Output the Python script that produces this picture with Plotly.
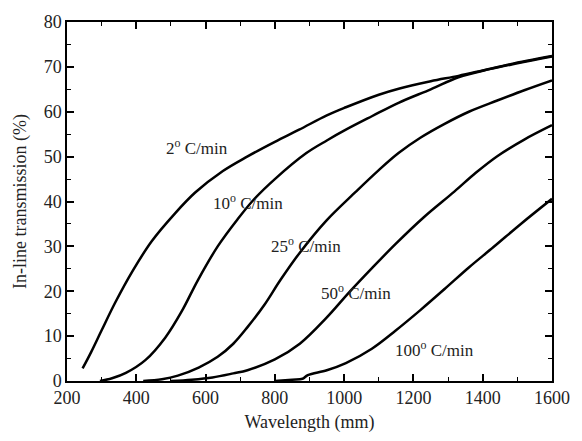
import plotly.graph_objects as go

# In-line transmission spectra for different heating rates
wl_2 = [245, 270, 300, 340, 390, 445, 510, 570, 650, 720, 800, 870, 950, 1005,
        1100, 1160, 1250, 1330, 1400, 1480, 1600]
tr_2 = [2.8, 6.5, 11.3, 17.6, 24.6, 31.2, 37.2, 42.0, 46.8, 50.0, 53.3, 56.0,
        59.2, 61.0, 63.8, 65.2, 66.8, 68.0, 69.2, 70.6, 72.4]

wl_10 = [295, 330, 370, 427, 484, 531, 578, 635, 692, 740, 800, 891,
         950, 1005, 1080, 1157, 1250, 1330, 1420, 1500, 1600]
tr_10 = [0.0, 0.6, 1.8, 4.7, 9.7, 15.5, 22.5, 30.0, 36.0, 40.5, 45.0, 50.8,
         53.6, 56.0, 59.0, 62.0, 65.0, 67.7, 69.5, 70.8, 72.3]

wl_25 = [420, 474, 520, 580, 635, 680, 721, 770, 816, 872, 948, 1034, 1100, 1157,
         1220, 1290, 1360, 1442, 1520, 1600]
tr_25 = [0.0, 0.4, 1.2, 3.0, 5.4, 8.3, 12.0, 17.0, 22.5, 28.6, 35.7, 42.2, 47.0,
         50.8, 54.2, 57.3, 60.0, 62.5, 64.8, 67.0]

wl_50 = [500, 560, 620, 680, 721, 800, 872, 948, 1015, 1081, 1148, 1230, 1318,
         1380, 1442, 1520, 1600]
tr_50 = [0.0, 0.3, 0.8, 1.7, 2.4, 4.8, 8.3, 14.0, 19.8, 25.2, 30.5, 36.5, 42.2,
         46.4, 50.1, 53.8, 57.0]

wl_100 = [800, 850, 880, 895, 950, 1005, 1080, 1148, 1220, 1290, 1360, 1432, 1510, 1600]
tr_100 = [0.0, 0.3, 0.5, 1.3, 2.4, 4.0, 7.2, 11.2, 15.8, 20.5, 25.3, 29.9, 35.0, 40.6]

series = [(wl_2, tr_2), (wl_10, tr_10), (wl_25, tr_25), (wl_50, tr_50), (wl_100, tr_100)]

# Curve labels: (text, wavelength, transmission) anchored at the left of the text
labels = [("2<sup>o</sup> C/min", 479, 52.1),
          ("10<sup>o</sup> C/min", 615, 39.8),
          ("25<sup>o</sup> C/min", 783, 30.3),
          ("50<sup>o</sup> C/min", 926, 19.9),
          ("100<sup>o</sup> C/min", 1142, 7.1)]

x_ticks = [200, 400, 600, 800, 1000, 1200, 1400, 1600]
y_ticks = [0, 10, 20, 30, 40, 50, 60, 70, 80]

SERIF = "Liberation Serif, Times New Roman, serif"

fig = go.Figure()
for wl, tr in series:
    fig.add_trace(go.Scatter(x=wl, y=tr, mode="lines",
                             line=dict(color="black", width=2.5, shape="spline", smoothing=1.0),
                             showlegend=False, hoverinfo="skip"))

for text, wx, ty in labels:
    fig.add_annotation(x=wx, y=ty, text=text, showarrow=False, xanchor="left",
                       yanchor="middle", font=dict(family=SERIF, size=17, color="#222"))

axis_common = dict(
    showline=True, linecolor="black", linewidth=1.5, mirror="ticks",
    ticks="inside", ticklen=7, tickwidth=1.5, tickcolor="black",
    showgrid=False, zeroline=False,
    tickfont=dict(family=SERIF, size=18, color="#222"),
)

fig.update_xaxes(range=[200, 1600], tickvals=x_ticks,
                 minor=dict(dtick=100, ticks="inside", ticklen=4, tickwidth=1.2, tickcolor="black"),
                 title=dict(text="Wavelength (mm)", font=dict(family=SERIF, size=18, color="#222"),
                            standoff=8),
                 **axis_common)
fig.update_yaxes(range=[0, 80], tickvals=y_ticks,
                 minor=dict(dtick=5, ticks="inside", ticklen=4, tickwidth=1.2, tickcolor="black"),
                 title=dict(text="In-line transmission (%)", font=dict(family=SERIF, size=18, color="#222"),
                            standoff=12),
                 **axis_common)

fig.update_layout(width=582, height=441, margin=dict(l=67, r=23, t=15, b=56),
                  plot_bgcolor="white", paper_bgcolor="white")

fig.write_html("out.html")
